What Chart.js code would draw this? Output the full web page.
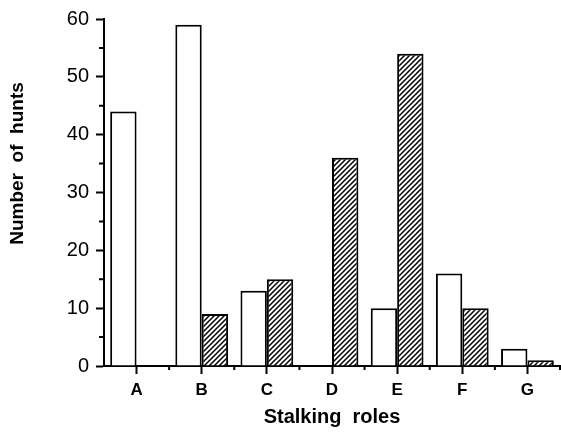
<!DOCTYPE html>
<html>
<head>
<meta charset="utf-8">
<script src="https://cdn.jsdelivr.net/npm/chart.js@4.4.1/dist/chart.umd.min.js"></script>
<style>
  html, body { margin: 0; padding: 0; background: #fff; }
  #wrap { width: 561px; height: 444px; position: relative; }
</style>
</head>
<body>
<div id="wrap"><canvas id="huntChart"></canvas></div>
<script>
// categories and values
const roles = ["A", "B", "C", "D", "E", "F", "G"];
const openBars = [44, 59, 13, 0, 10, 16, 3];
const hatchedBars = [0, 9, 15, 36, 54, 10, 1];
const yMinorTicks = [5, 15, 25, 35, 45, 55];

// diagonal hatch fill
const makeHatch = () => {
  const size = 5;
  const c = document.createElement("canvas");
  c.width = size;
  c.height = size;
  const g = c.getContext("2d");
  g.fillStyle = "#fff";
  g.fillRect(0, 0, size, size);
  g.strokeStyle = "#000";
  g.lineWidth = 1.5;
  g.beginPath();
  g.moveTo(-1, size + 1);
  g.lineTo(size + 1, -1);
  g.moveTo(-1, 1);
  g.lineTo(1, -1);
  g.moveTo(size - 1, size + 1);
  g.lineTo(size + 1, size - 1);
  g.stroke();
  return g.createPattern(c, "repeat");
};

// short ticks: y at the fives, x at the category borders
const minorTicks = {
  id: "minorTicks",
  afterDraw(chart) {
    const { ctx, scales } = chart;
    const x = scales.x, y = scales.y;
    ctx.save();
    ctx.strokeStyle = "#000";
    ctx.lineWidth = 2;
    ctx.beginPath();
    yMinorTicks.forEach((v) => {
      const py = y.getPixelForValue(v);
      ctx.moveTo(x.left - 5, py);
      ctx.lineTo(x.left, py);
    });
    for (let i = 0; i < roles.length; i++) {
      const px = x.getPixelForValue(i + 0.5);
      ctx.moveTo(px, y.bottom);
      ctx.lineTo(px, y.bottom + 4);
    }
    ctx.stroke();
    ctx.restore();
  },
};

Chart.defaults.font.family = "'Liberation Sans', Arial, Helvetica, sans-serif";
Chart.defaults.color = "#000";

new Chart(document.getElementById("huntChart"), {
  type: "bar",
  data: {
    labels: roles,
    datasets: [
      {
        label: "open",
        data: openBars,
        backgroundColor: "#fff",
        borderColor: "#000",
        borderWidth: 2,
        categoryPercentage: 0.81,
        barPercentage: 1.0,
      },
      {
        label: "hatched",
        data: hatchedBars,
        backgroundColor: makeHatch(),
        borderColor: "#000",
        borderWidth: 2,
        categoryPercentage: 0.81,
        barPercentage: 1.0,
      },
    ],
  },
  options: {
    responsive: true,
    maintainAspectRatio: false,
    animation: false,
    layout: { padding: { top: 14, right: 1, left: 0, bottom: 0 } },
    plugins: {
      legend: { display: false },
      tooltip: { enabled: false },
    },
    scales: {
      x: {
        offset: true,
        grid: {
          offset: false,
          drawOnChartArea: false,
          tickLength: 8,
          tickWidth: 2,
          tickColor: "#000",
        },
        border: { color: "#000", width: 2 },
        ticks: { font: { size: 17, weight: "bold" }, padding: 6 },
        title: {
          display: true,
          text: "Stalking  roles",
          font: { size: 20, weight: "bold" },
          padding: { top: 0, bottom: 15 },
        },
        afterFit: (scale) => { scale.height = 78; },
      },
      y: {
        min: 0,
        max: 60,
        grid: {
          drawOnChartArea: false,
          tickLength: 8,
          tickWidth: 2,
          tickColor: "#000",
        },
        border: { color: "#000", width: 2 },
        ticks: { stepSize: 10, font: { size: 20 }, padding: 7 },
        title: {
          display: true,
          text: "           Number  of  hunts",
          font: { size: 19, weight: "bold" },
          padding: { top: 6, bottom: 0 },
        },
        afterFit: (scale) => { scale.width = 104; },
      },
    },
  },
  plugins: [minorTicks],
});
</script>
</body>
</html>
